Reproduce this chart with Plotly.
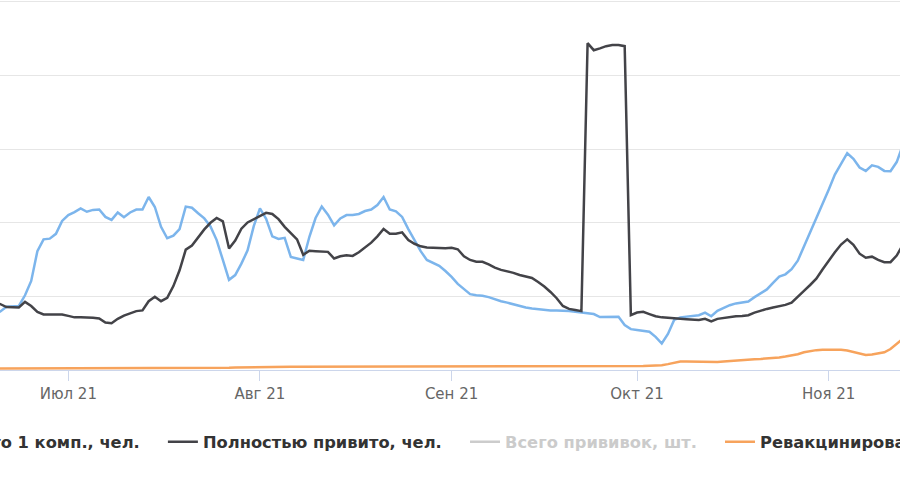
import pandas as pd
import plotly.graph_objects as go

# ---------------- data (daily) ----------------
dates = pd.date_range("2021-06-19", periods=148, freq="D")

first_dose = [  # Привито 1 комп., чел.
    1490, 1590, 1720, 1730, 1740, 2030, 2420, 3230, 3550, 3570,
    3700, 4050, 4210, 4290, 4390, 4300, 4350, 4360, 4160, 4080,
    4280, 4150, 4280, 4360, 4360, 4700, 4430, 3890, 3580, 3650,
    3830, 4440, 4410, 4260, 4120, 3900, 3530, 2990, 2450, 2580,
    2890, 3250, 3910, 4390, 4110, 3630, 3560, 3590, 3070, 3030,
    2990, 3620, 4130, 4440, 4220, 3930, 4120, 4210, 4210, 4240,
    4320, 4360, 4480, 4700, 4360, 4310, 4160, 3830, 3520, 3230,
    2990, 2900, 2830, 2690, 2530, 2340, 2190, 2060, 2030, 2020,
    1980, 1920, 1870, 1830, 1780, 1730, 1700, 1670, 1650, 1620,
    1620, 1620, 1620, 1600, 1580, 1560, 1550, 1520, 1440, 1440,
    1450, 1450, 1220, 1110, 1090, 1070, 1040, 900, 720, 980,
    1360, 1430, 1450, 1470, 1490, 1560, 1460, 1610, 1690, 1760,
    1810, 1830, 1860, 1980, 2090, 2190, 2370, 2540, 2600, 2740,
    2970, 3350, 3720, 4100, 4480, 4900, 5310, 5620, 5890, 5740,
    5500, 5410, 5560, 5520, 5410, 5400, 5650, 6110,
]

fully = [  # Полностью привито, чел.
    1820, 1790, 1710, 1700, 1700, 1850, 1740, 1580, 1510, 1510,
    1510, 1510, 1470, 1430, 1430, 1430, 1420, 1400, 1290, 1270,
    1390, 1480, 1540, 1600, 1620, 1870, 1990, 1870, 1960, 2280,
    2710, 3270, 3380, 3610, 3820, 4000, 4130, 4040, 3300, 3520,
    3840, 4010, 4090, 4190, 4270, 4240, 4100, 3890, 3710, 3550,
    3130, 3240, 3230, 3210, 3210, 3030, 3090, 3120, 3100, 3200,
    3340, 3460, 3630, 3830, 3700, 3700, 3740, 3530, 3430, 3360,
    3330, 3320, 3310, 3310, 3320, 3280, 3090, 2990, 2940, 2940,
    2870, 2780, 2720, 2690, 2640, 2580, 2540, 2500, 2390, 2270,
    2120, 1950, 1740, 1660, 1630, 1600, 8880, 8690, 8740, 8800,
    8830, 8830, 8800, 1490, 1560, 1580, 1520, 1460, 1430, 1410,
    1400, 1390, 1380, 1370, 1360, 1390, 1320, 1390, 1420, 1440,
    1460, 1470, 1490, 1560, 1620, 1660, 1700, 1730, 1770, 1830,
    2000, 2150, 2310, 2480, 2730, 2970, 3200, 3410, 3550, 3400,
    3160, 3050, 3080, 2990, 2930, 2930, 3110, 3400,
]

revaccinated = [  # Ревакцинировано, чел.
    40, 40, 40, 40, 40, 40, 40, 40, 40, 40,
    40, 40, 40, 40, 40, 40, 45, 45, 45, 45,
    45, 45, 50, 50, 50, 50, 50, 50, 50, 55,
    55, 55, 55, 55, 55, 60, 60, 60, 60, 65,
    65, 70, 70, 75, 75, 80, 80, 85, 85, 90,
    90, 90, 90, 90, 90, 95, 95, 95, 95, 95,
    95, 95, 95, 95, 95, 95, 95, 95, 95, 95,
    95, 95, 95, 95, 95, 95, 95, 100, 100, 100,
    100, 100, 100, 100, 100, 100, 100, 100, 100, 100,
    100, 100, 100, 100, 100, 105, 105, 105, 105, 105,
    105, 110, 110, 110, 110, 110, 115, 115, 130, 160,
    200, 230, 230, 225, 225, 215, 205, 215, 230, 245,
    255, 265, 285, 295, 300, 310, 320, 340, 365, 390,
    430, 480, 520, 540, 550, 555, 560, 550, 530, 490,
    430, 410, 420, 445, 480, 570, 700, 850,
]

# hidden series: switched off in the legend, its values are not shown
total_doses_dates = [dates[0]]
total_doses = [None]

tick_vals = ["2021-07-01", "2021-08-01", "2021-09-01", "2021-10-01", "2021-11-01"]
tick_text = ["Июл 21", "Авг 21", "Сен 21", "Окт 21", "Ноя 21"]

names = ["Привито 1 комп., чел.", "Полностью привито, чел.",
         "Всего прививок, шт.", "Ревакцинировано, чел."]

# ---------------- figure ----------------
fig = go.Figure()
fig.add_trace(go.Scatter(x=dates, y=first_dose, mode="lines", name=names[0],
                         line=dict(color="#7cb5ec", width=2.5), legend="legend"))
fig.add_trace(go.Scatter(x=dates, y=fully, mode="lines", name=names[1],
                         line=dict(color="#434348", width=2.5), legend="legend2"))
fig.add_trace(go.Scatter(x=total_doses_dates, y=total_doses, mode="lines", name=names[2],
                         visible="legendonly",
                         line=dict(color="#999999", width=2.5), legend="legend3"))
fig.add_trace(go.Scatter(x=dates, y=revaccinated, mode="lines", name=names[3],
                         line=dict(color="#f7a35c", width=2.5), legend="legend4"))

leg_font = dict(family="DejaVu Sans", size=16.3, color="#333333", weight="bold")
leg_common = dict(orientation="h", yanchor="middle", y=-0.195,
                  bgcolor="rgba(0,0,0,0)", borderwidth=0, font=leg_font)

fig.update_layout(
    width=900, height=500,
    margin=dict(l=0, r=0, t=0, b=130, pad=0, autoexpand=False),
    paper_bgcolor="white", plot_bgcolor="white",
    showlegend=True,
    legend=dict(x=0.161, xanchor="right", **leg_common),
    legend2=dict(x=0.181, xanchor="left", **leg_common),
    legend3=dict(x=0.5167, xanchor="left",
                 **{**leg_common, "font": {**leg_font, "color": "#999999"}}),
    legend4=dict(x=0.80, xanchor="left", **leg_common),
    xaxis=dict(
        type="date",
        range=["2021-06-19 22:51", "2021-11-12 12:52"],
        tickvals=tick_vals, ticktext=tick_text,
        ticks="outside", ticklen=10, tickcolor="#ccd6eb", tickwidth=1,
        showgrid=False, showline=True, linecolor="#ccd6eb", linewidth=1,
        tickfont=dict(family="DejaVu Sans", size=15, color="#666666"),
        zeroline=False,
    ),
    yaxis=dict(
        range=[0, 10054], dtick=2000, tick0=0,
        showticklabels=False, showgrid=True, gridcolor="#e6e6e6", gridwidth=1,
        zeroline=False, showline=False, ticks="",
    ),
)

fig.write_html("out.html",
               config={"displayModeBar": False},
               post_script="document.body.style.margin='0';document.body.style.overflow='hidden';")
